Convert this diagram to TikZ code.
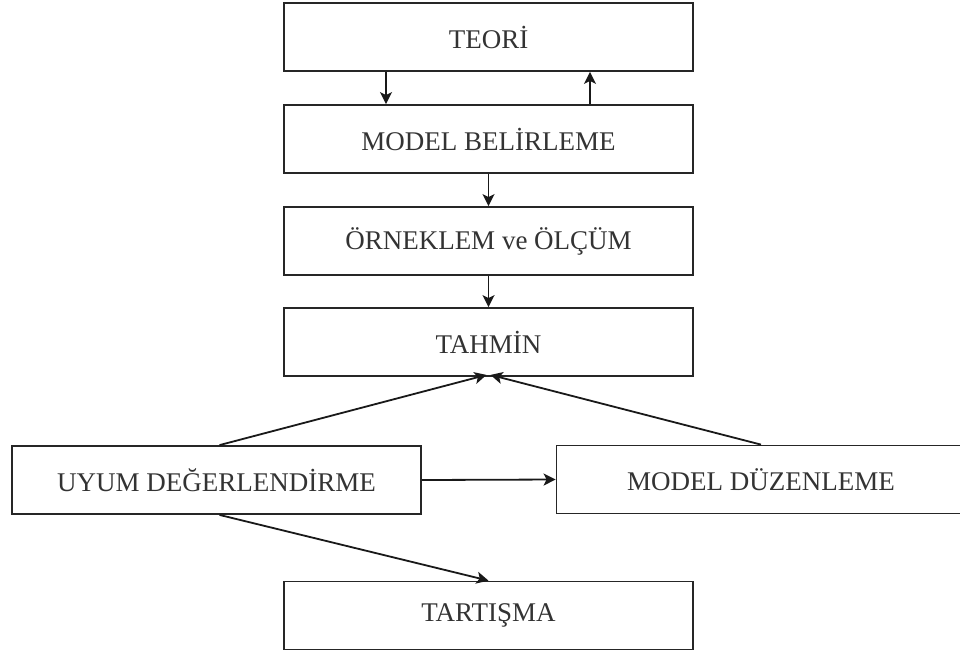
\documentclass[tikz,border=0pt]{standalone}
\usepackage{fontspec}
\setmainfont{Liberation Serif}
\usetikzlibrary{arrows.meta}
\begin{document}
\begin{tikzpicture}[x=1pt,y=-1pt,
  box/.style={draw=black!85, line width=1.8pt, rectangle, minimum width=409pt, minimum height=68pt, inner sep=0pt, text=black!80, font=\fontsize{27}{31}\selectfont},
  conn/.style={draw=black!90, line width=1.8pt, -{Stealth[length=12pt,width=12pt,inset=3pt]}}]
\useasboundingbox (0,0) rectangle (960,657);
\begin{scope}
\clip (0,0) rectangle (960,657);
\node[box] (teori) at (488.5,37) {TEORİ};
\node[box] (mb) at (488.5,139) {MODEL BELİRLEME};
\node[box] (oc) at (488.5,241) {ÖRNEKLEM ve ÖLÇÜM};
\node[box] (tah) at (488.5,342) {TAHMİN};
\node[box] (uyum) at (216.5,480) {UYUM DEĞERLENDİRME};
\node[box] (md) at (761,479.5) {MODEL DÜZENLEME};
\node[box] (tar) at (488.5,615.5) {TARTIŞMA};
\draw[conn] ([xshift=-102.5pt]teori.south) -- ([xshift=-102.5pt]mb.north);
\draw[conn] ([xshift=101.5pt]mb.north) -- ([xshift=101.5pt]teori.south);
\draw[conn] (mb.south) -- (oc.north);
\draw[conn] (oc.south) -- (tah.north);
\draw[conn] ([xshift=3pt]uyum.north) -- ([xshift=-2pt,yshift=2pt]tah.south);
\draw[conn] (md.north) -- ([xshift=2pt,yshift=2pt]tah.south);
\draw[conn] (uyum.east) -- (md.west);
\draw[conn] ([xshift=3pt]uyum.south) -- (tar.north);
\end{scope}
\end{tikzpicture}
\end{document}
